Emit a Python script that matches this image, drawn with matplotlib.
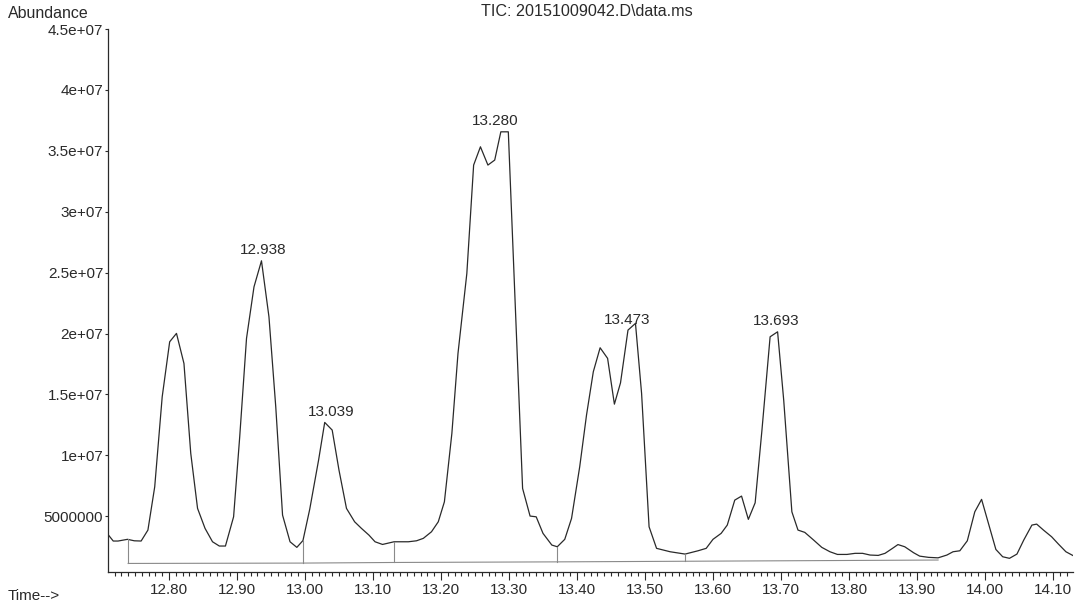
import numpy as np
import matplotlib
matplotlib.use('Agg')
import matplotlib.pyplot as plt
from matplotlib.ticker import MultipleLocator

plt.rcParams['font.family'] = ['Liberation Sans', 'DejaVu Sans']
plt.rcParams['font.size'] = 11

# TIC trace (time in min, abundance in counts)
time = [12.711, 12.718, 12.725, 12.739, 12.749, 12.759, 12.769, 12.779, 12.790, 12.801,
        12.811, 12.822, 12.832, 12.842, 12.853, 12.864, 12.874, 12.883, 12.895, 12.904,
        12.914, 12.925, 12.936, 12.947, 12.957, 12.967, 12.978, 12.988, 12.997, 13.007,
        13.020, 13.029, 13.040, 13.050, 13.061, 13.073, 13.083, 13.094, 13.103, 13.114,
        13.131, 13.152, 13.164, 13.174, 13.186, 13.196, 13.205, 13.216, 13.225, 13.238,
        13.248, 13.258, 13.269, 13.279, 13.288, 13.299, 13.320, 13.331, 13.340, 13.350,
        13.363, 13.371, 13.382, 13.392, 13.404, 13.414, 13.424, 13.434, 13.445, 13.455,
        13.464, 13.475, 13.486, 13.495, 13.506, 13.517, 13.537, 13.559, 13.578, 13.590,
        13.600, 13.612, 13.621, 13.632, 13.642, 13.652, 13.662, 13.672, 13.684, 13.695,
        13.704, 13.716, 13.725, 13.735, 13.748, 13.760, 13.772, 13.783, 13.797, 13.809,
        13.820, 13.831, 13.843, 13.853, 13.864, 13.872, 13.882, 13.895, 13.904, 13.917,
        13.931, 13.944, 13.953, 13.963, 13.974, 13.985, 13.995, 14.005, 14.016, 14.026,
        14.036, 14.047, 14.057, 14.069, 14.076, 14.086, 14.098, 14.108, 14.119, 14.129]
abundance = [3.45e6, 2.96e6, 2.96e6, 3.10e6, 2.98e6, 2.96e6, 3.86e6, 7.41e6, 14.80e6, 19.32e6,
             20.01e6, 17.54e6, 10.16e6, 5.64e6, 4.00e6, 2.90e6, 2.55e6, 2.55e6, 4.95e6, 11.52e6,
             19.60e6, 23.83e6, 25.97e6, 21.37e6, 13.98e6, 5.09e6, 2.90e6, 2.44e6, 3.00e6, 5.58e6,
             9.61e6, 12.70e6, 12.07e6, 8.78e6, 5.64e6, 4.54e6, 4.00e6, 3.45e6, 2.90e6, 2.68e6,
             2.90e6, 2.90e6, 2.98e6, 3.18e6, 3.72e6, 4.54e6, 6.18e6, 11.80e6, 18.37e6, 24.93e6,
             33.83e6, 35.33e6, 33.83e6, 34.24e6, 36.56e6, 36.56e6, 7.28e6, 5.01e6, 4.95e6, 3.59e6,
             2.63e6, 2.49e6, 3.10e6, 4.82e6, 9.06e6, 13.30e6, 16.86e6, 18.83e6, 17.96e6, 14.20e6,
             15.95e6, 20.28e6, 20.83e6, 15.08e6, 4.13e6, 2.36e6, 2.08e6, 1.89e6, 2.16e6, 2.36e6,
             3.10e6, 3.59e6, 4.27e6, 6.32e6, 6.65e6, 4.74e6, 6.10e6, 12.07e6, 19.73e6, 20.14e6,
             14.53e6, 5.36e6, 3.86e6, 3.67e6, 3.04e6, 2.44e6, 2.08e6, 1.86e6, 1.86e6, 1.95e6,
             1.95e6, 1.81e6, 1.78e6, 1.95e6, 2.36e6, 2.67e6, 2.49e6, 2.00e6, 1.72e6, 1.62e6,
             1.58e6, 1.81e6, 2.08e6, 2.16e6, 2.98e6, 5.36e6, 6.38e6, 4.41e6, 2.27e6, 1.67e6,
             1.54e6, 1.89e6, 3.04e6, 4.27e6, 4.35e6, 3.86e6, 3.31e6, 2.71e6, 2.08e6, 1.78e6]

# integration baseline and the drop lines at the peak boundaries
base_time = [12.740, 12.997, 13.131, 13.371, 13.559, 13.931]
base_level = [1.12e6, 1.15e6, 1.20e6, 1.25e6, 1.30e6, 1.40e6]
drop_time = [12.740, 12.997, 13.131, 13.371, 13.559]

peak_labels = ['12.938', '13.039', '13.280', '13.473', '13.693']

ytick_vals = [5e6, 1e7, 1.5e7, 2e7, 2.5e7, 3e7, 3.5e7, 4e7, 4.5e7]
ytick_labels = ['5000000', '1e+07', '1.5e+07', '2e+07', '2.5e+07', '3e+07', '3.5e+07', '4e+07', '4.5e+07']
xtick_vals = [12.80, 12.90, 13.00, 13.10, 13.20, 13.30, 13.40, 13.50, 13.60, 13.70, 13.80, 13.90, 14.00, 14.10]

ink = '#2a2a2a'
t = np.array(time)
a = np.array(abundance)

fig = plt.figure(figsize=(10.8, 6.01), dpi=100)
ax = fig.add_axes([0.1, 0.0483, 0.8935, 0.9034])

ax.plot(t, a, color=ink, lw=0.9)
ax.plot(base_time, base_level, color='#8a8a8a', lw=0.8)
for dt in drop_time:
    b = np.interp(dt, base_time, base_level)
    ax.plot([dt, dt], [b, np.interp(dt, t, a)], color='#8a8a8a', lw=0.8)

for lab in peak_labels:
    pt = float(lab)
    win = (t > pt - 0.012) & (t < pt + 0.012)
    ax.annotate(lab, xy=(pt, a[win].max()), xytext=(0, 2.5), textcoords='offset points',
                ha='center', va='bottom', color=ink)

ax.set_xlim(12.7103, 14.1294)
ax.set_ylim(0.42e6, 4.5e7)
ax.set_xticks(xtick_vals, labels=[f'{v:.2f}' for v in xtick_vals])
ax.xaxis.set_minor_locator(MultipleLocator(0.01))
ax.set_yticks(ytick_vals, labels=ytick_labels)

for s in ['top', 'right']:
    ax.spines[s].set_visible(False)
for s in ['left', 'bottom']:
    ax.spines[s].set_color(ink)
    ax.spines[s].set_linewidth(0.9)
ax.tick_params(axis='x', which='major', length=6, width=0.8, pad=2, colors=ink)
ax.tick_params(axis='x', which='minor', length=3, width=0.8, colors=ink)
ax.tick_params(axis='y', which='major', length=2.5, width=0.8, pad=1, colors=ink)

fig.text(8 / 1080, 1 - 13 / 601, 'Abundance', ha='left', va='center', color=ink, fontsize=11.5)
fig.text(587 / 1080, 1 - 12 / 601, 'TIC: 20151009042.D\\data.ms', ha='center', va='center',
         color=ink, fontsize=11.6)
fig.text(8 / 1080, 1 - 596 / 601, 'Time-->', ha='left', va='center', color=ink)

fig.savefig('out.png', dpi=100, facecolor='white')
